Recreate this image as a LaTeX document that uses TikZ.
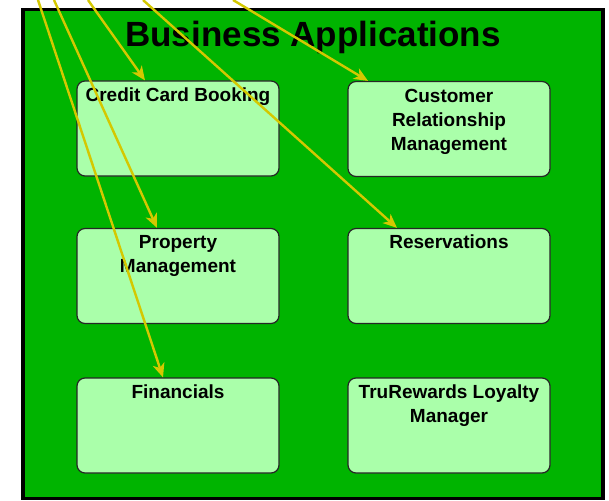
\documentclass[tikz,border=0pt]{standalone}
\usepackage{fontspec}
\setmainfont{Liberation Sans}
\usetikzlibrary{arrows.meta}
\definecolor{outergreen}{RGB}{0,180,0}
\definecolor{boxgreen}{RGB}{170,255,170}
\definecolor{arrowyellow}{RGB}{212,200,0}
\begin{document}
\begin{tikzpicture}[x=1pt,y=-1pt,
  framebox/.style={draw=black, line width=3.5pt, fill=outergreen, minimum width=580pt, minimum height=489pt, inner sep=0pt},
  appbox/.style={draw=black!85, line width=1.2pt, fill=boxgreen, rounded corners=8pt, minimum width=202pt, minimum height=95pt, inner sep=0pt},
  apptext/.style={font=\bfseries\fontsize{19}{24}\selectfont, align=center, inner sep=0pt, anchor=north},
  titletext/.style={font=\bfseries\fontsize{35}{42}\selectfont, inner sep=0pt, anchor=base},
  arr/.style={draw=arrowyellow, line width=2.4pt, -{Stealth[length=14pt,width=12pt,inset=4pt]}}
]
\useasboundingbox (0,0) rectangle (609,500);
\node[framebox] (frame) at (313,254) {};
\node[titletext] (title) at (313,47) {Business Applications};

\node[appbox] (ccb) at (178,128.5) {};
\node[appbox] (crm) at (449,129) {};
\node[appbox] (pm)  at (178,276) {};
\node[appbox] (res) at (449,276) {};
\node[appbox] (fin) at (178,425.5) {};
\node[appbox] (tru) at (449,425.5) {};

\node[apptext] (ccbt) at ([yshift=-7pt]ccb.north) {Credit Card Booking};
\node[apptext] (crmt) at ([yshift=-8pt]crm.north) {Customer\\Relationship\\Management};
\node[apptext] (pmt)  at ([yshift=-7pt]pm.north) {Property\\Management};
\node[apptext] (rest) at ([yshift=-7pt]res.north) {Reservations};
\node[apptext] (fint) at ([yshift=-7pt]fin.north) {Financials};
\node[apptext] (trut) at ([yshift=-7pt]tru.north) {TruRewards Loyalty\\Manager};

\coordinate (sfin) at (38,0);
\coordinate (spm)  at (54,0);
\coordinate (sccb) at (88,0);
\coordinate (sres) at (143,0);
\coordinate (scrm) at (233,0);

\draw[arr] (sfin) -- ([xshift=-15pt]fin.north);
\draw[arr] (spm)  -- ([xshift=-21pt]pm.north);
\draw[arr] (sccb) -- ([xshift=-33pt]ccb.north);
\draw[arr] (sres) -- ([xshift=-52pt]res.north);
\draw[arr] (scrm) -- ([xshift=-81pt]crm.north);
\end{tikzpicture}
\end{document}
